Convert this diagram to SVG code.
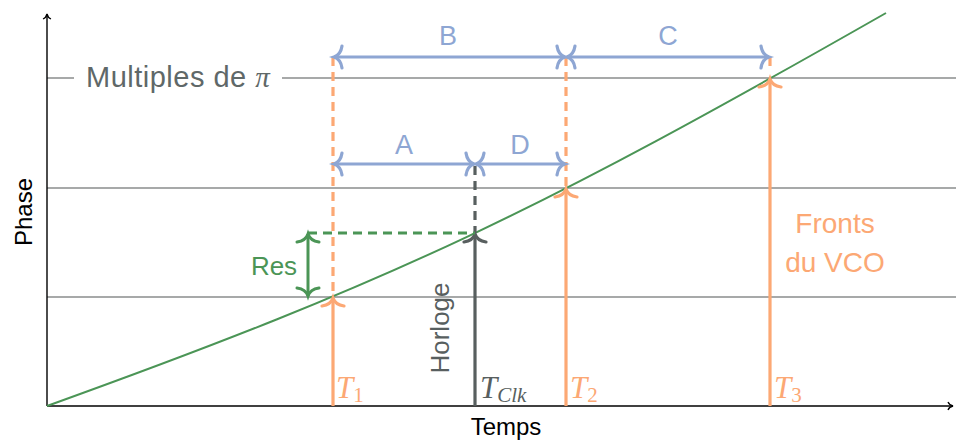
<svg xmlns="http://www.w3.org/2000/svg" width="956" height="440" viewBox="0 0 956 440">
<defs>
<style>
.grid{stroke:#8a8d8d;stroke-width:1.5;fill:none}
.axis{stroke:#000;stroke-width:1.4;fill:none}
.blue{stroke:#8ea6d3;stroke-width:3.2;fill:none}
.orange{stroke:#fca874;stroke-width:3.2;fill:none}
.dark{stroke:#585f5f;stroke-width:3.2;fill:none}
.green{stroke:#4b9556;stroke-width:3;fill:none}
.dash{stroke-dasharray:9 6}
.sans{font-family:"Liberation Sans","DejaVu Sans",sans-serif}
.math{font-family:"Liberation Serif","DejaVu Serif",serif;font-style:italic}
</style>
<marker id="aB" markerUnits="userSpaceOnUse" orient="auto-start-reverse" overflow="visible" markerWidth="1" markerHeight="1"><path d="M-8,-11 C-7,-4 -3,-1 0,0 C-3,1 -7,4 -8,11" stroke="#8ea6d3" stroke-width="3.2" fill="none" stroke-linecap="round"/></marker>
<marker id="aO" markerUnits="userSpaceOnUse" orient="auto-start-reverse" overflow="visible" markerWidth="1" markerHeight="1"><path d="M-8,-11 C-7,-4 -3,-1 0,0 C-3,1 -7,4 -8,11" stroke="#fca874" stroke-width="3.2" fill="none" stroke-linecap="round"/></marker>
<marker id="aD" markerUnits="userSpaceOnUse" orient="auto-start-reverse" overflow="visible" markerWidth="1" markerHeight="1"><path d="M-8,-11 C-7,-4 -3,-1 0,0 C-3,1 -7,4 -8,11" stroke="#585f5f" stroke-width="3.2" fill="none" stroke-linecap="round"/></marker>
<marker id="aG" markerUnits="userSpaceOnUse" orient="auto-start-reverse" overflow="visible" markerWidth="1" markerHeight="1"><path d="M-8,-11 C-7,-4 -3,-1 0,0 C-3,1 -7,4 -8,11" stroke="#4b9556" stroke-width="3" fill="none" stroke-linecap="round"/></marker>
<marker id="aK" markerUnits="userSpaceOnUse" orient="auto" overflow="visible" markerWidth="1" markerHeight="1"><path d="M-5,-4 C-4,-1.5 -2,-0.5 0,0 C-2,0.5 -4,1.5 -5,4" stroke="#000" stroke-width="1.3" fill="none"/></marker>
</defs>
<rect width="956" height="440" fill="#fff"/>

<g id="grid">
<path class="grid" d="M47,78 H74 M282,78 H956 M47,188 H956 M47,297 H956"/>
</g>

<g id="axes">
<path class="axis" d="M47,406 V14" marker-end="url(#aK)"/>
<path class="axis" d="M47,406 H953" marker-end="url(#aK)"/>
<text class="sans" x="506" y="435" font-size="24" text-anchor="middle" fill="#000">Temps</text>
<text class="sans" transform="translate(32,212) rotate(-90)" font-size="24" text-anchor="middle" fill="#000">Phase</text>
</g>

<g id="multiples">
<text class="sans" x="86" y="87" font-size="29" letter-spacing="0.5" fill="#5f6868">Multiples de <tspan class="math" font-family="Liberation Serif, serif">π</tspan></text>
</g>

<g id="curve">
<path d="M47,406 C397,280 536,212.5 886,13" stroke="#4b9556" stroke-width="2" fill="none"/>
</g>

<g id="connectors">
<path class="orange dash" d="M333,57 V297"/>
<path class="orange" d="M333,406 V298" marker-end="url(#aO)"/>
<path class="orange dash" d="M566,57 V188"/>
<path class="orange" d="M566,406 V189" marker-end="url(#aO)"/>
<path class="orange dash" d="M770,57 V66"/>
<path class="orange" d="M770,406 V79" marker-end="url(#aO)"/>
<path class="dark dash" d="M475,166 V233"/>
<path class="dark" d="M475,406 V234" marker-end="url(#aD)"/>
<path class="green dash" d="M308,233 H475"/>
<path class="green" d="M308,234 V296" marker-start="url(#aG)" marker-end="url(#aG)"/>
<path class="blue" d="M334,57 H565" marker-start="url(#aB)" marker-end="url(#aB)"/>
<path class="blue" d="M567,57 H769" marker-start="url(#aB)" marker-end="url(#aB)"/>
<path class="blue" d="M334,164 H474" marker-start="url(#aB)" marker-end="url(#aB)"/>
<path class="blue" d="M476,164 H565" marker-start="url(#aB)" marker-end="url(#aB)"/>
</g>

<g id="labels">
<text class="sans" x="448" y="45" font-size="27" text-anchor="middle" fill="#8ea6d3">B</text>
<text class="sans" x="668" y="45" font-size="27" text-anchor="middle" fill="#8ea6d3">C</text>
<text class="sans" x="404" y="154" font-size="27" text-anchor="middle" fill="#8ea6d3">A</text>
<text class="sans" x="520" y="154" font-size="27" text-anchor="middle" fill="#8ea6d3">D</text>
<text class="sans" x="274" y="275" font-size="26" text-anchor="middle" fill="#4b9556">Res</text>
<text class="sans" transform="translate(449,328) rotate(-90)" font-size="26" text-anchor="middle" fill="#585f5f">Horloge</text>
<text class="sans" x="835" y="233" font-size="28" text-anchor="middle" fill="#fca874">Fronts</text>
<text class="sans" x="835" y="272" font-size="28" text-anchor="middle" fill="#fca874">du VCO</text>
<text class="math" x="336" y="398" font-size="31" fill="#fca874">T<tspan font-size="21" dy="4" font-style="normal">1</tspan></text>
<text class="math" x="480" y="398" font-size="31" fill="#585f5f">T<tspan font-size="21" dy="4">Clk</tspan></text>
<text class="math" x="570" y="398" font-size="31" fill="#fca874">T<tspan font-size="21" dy="4" font-style="normal">2</tspan></text>
<text class="math" x="774" y="398" font-size="31" fill="#fca874">T<tspan font-size="21" dy="4" font-style="normal">3</tspan></text>
</g>
</svg>
